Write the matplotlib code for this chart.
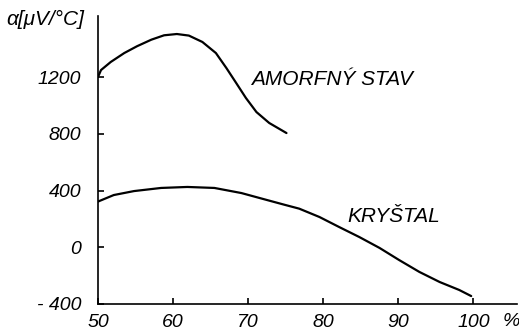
import matplotlib
matplotlib.use('Agg')
import matplotlib.pyplot as plt

# composition (%) vs thermopower alpha [uV/degC]
amorf_x = [50.0, 50.4, 51.7, 53.5, 55.2, 57.1, 58.8, 60.5, 62.1, 63.9,
           65.7, 67.1, 68.4, 69.7, 71.1, 72.8, 75.1]
amorf_y = [1200, 1249, 1306, 1369, 1417, 1463, 1494, 1503, 1492, 1447,
           1369, 1263, 1158, 1052, 953, 876, 805]

kryst_x = [50.0, 52.1, 54.8, 58.4, 61.9, 65.5, 69.1, 72.5, 74.8, 76.8,
           79.5, 82.1, 84.8, 87.5, 90.1, 92.8, 95.5, 98.1, 99.7]
kryst_y = [322, 368, 396, 418, 425, 418, 382, 333, 300, 272,
           213, 143, 72, -5, -90, -174, -245, -301, -344]

xticks = [50, 60, 70, 80, 90, 100]
yticks = [-400, 0, 400, 800, 1200]
ytick_labels = ['- 400', '0', '400', '800', '1200']

plt.rcParams['font.family'] = ['Liberation Sans', 'DejaVu Sans']
plt.rcParams['font.style'] = 'italic'

W, H = 519, 333
fig = plt.figure(figsize=(W / 100, H / 100), dpi=100)
ax = fig.add_axes([98 / W, (H - 304) / H, (517 - 98) / W, (304 - 16) / H])

for xs, ys in [(amorf_x, amorf_y), (kryst_x, kryst_y)]:
    ax.plot(xs, ys, color='black', lw=1.6,
            solid_capstyle='round', solid_joinstyle='round')

ax.set_xlim(50, 105.8)
ax.set_ylim(-400, 1630)

for s in ['top', 'right']:
    ax.spines[s].set_visible(False)
for s in ['left', 'bottom']:
    ax.spines[s].set_linewidth(1.2)

ax.set_xticks(xticks)
ax.set_xticklabels([str(t) for t in xticks])
ax.set_yticks(yticks)
ax.set_yticklabels(ytick_labels)
ax.tick_params(axis='both', direction='in', length=4, width=1.2,
               labelsize=14, colors='black')
ax.tick_params(axis='x', pad=7.5)
ax.tick_params(axis='y', pad=12)

ax.text(70.4, 1143, 'AMORFNÝ STAV', fontsize=15)
ax.text(83.2, 178, 'KRYŠTAL', fontsize=15)

fig.text(6 / W, 1 - 25 / H, 'α[μV/°C]', fontsize=15, va='baseline')
fig.text(503 / W, 1 - 326 / H, '%', fontsize=14, va='baseline')

fig.savefig('out.png', dpi=100, facecolor='white')
